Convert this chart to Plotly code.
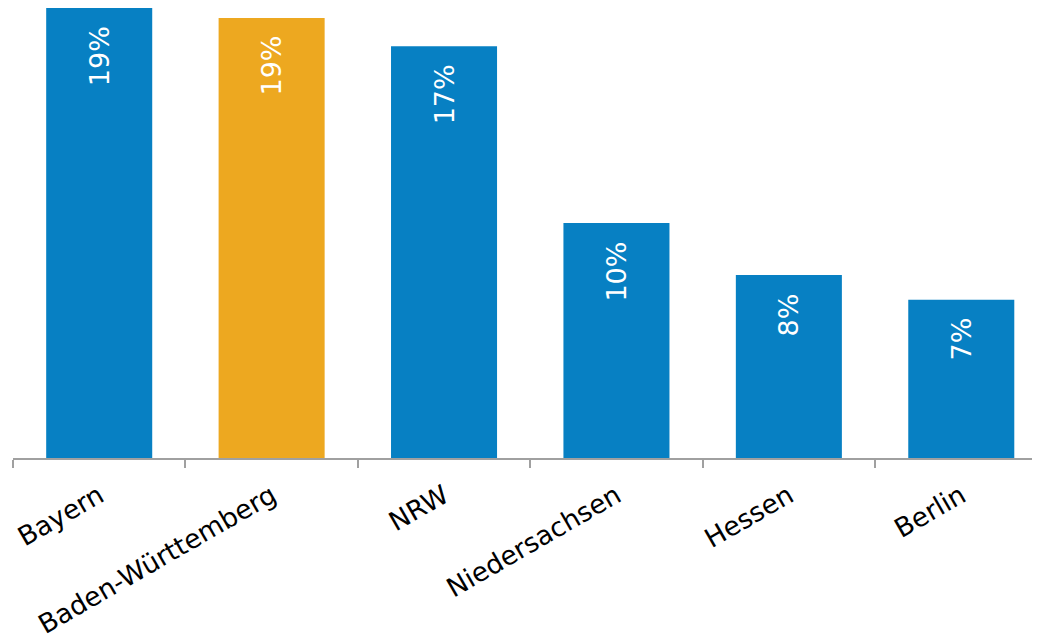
import plotly.graph_objects as go

regions = ["Bayern", "Baden-Württemberg", "NRW", "Niedersachsen", "Hessen", "Berlin"]
shares = [19.0, 18.6, 17.45, 10.3, 8.2, 7.2]
highlight = "Baden-Württemberg"

BLUE = "#0780C3"
ORANGE = "#EDA820"
colors = [ORANGE if r == highlight else BLUE for r in regions]

FONT = "DejaVu Sans, Verdana, sans-serif"

fig = go.Figure()
fig.add_trace(go.Bar(
    x=regions, y=shares,
    marker=dict(color=colors, line=dict(width=0)),
    hoverinfo="skip",
))

for r, v in zip(regions, shares):
    fig.add_annotation(
        x=r, y=v, text=f"{v:.0f}%", showarrow=False,
        textangle=-90, yanchor="top", xanchor="center", yshift=-16,
        font=dict(family=FONT, size=27, color="white"),
    )

fig.update_layout(
    width=1040, height=635,
    margin=dict(l=5, r=0, t=0, b=185, autoexpand=False),
    paper_bgcolor="white", plot_bgcolor="white",
    showlegend=False,
    bargap=0.385,
    font=dict(family=FONT, size=26, color="black"),
)
fig.update_xaxes(
    type="category", range=[-0.5, 5.503],
    tickson="boundaries", ticks="outside", ticklen=8, tickwidth=2, tickcolor="#A0A0A0",
    showline=True, linecolor="#A0A0A0", linewidth=2,
    tickangle=-30, tickfont=dict(family=FONT, size=26.5, color="black"),
    ticklabelstandoff=10,
    showgrid=False, zeroline=False, automargin=False,
)
fig.update_yaxes(
    range=[0.8, 19.0], visible=False, showgrid=False, zeroline=False,
)

fig.write_html("out.html")
